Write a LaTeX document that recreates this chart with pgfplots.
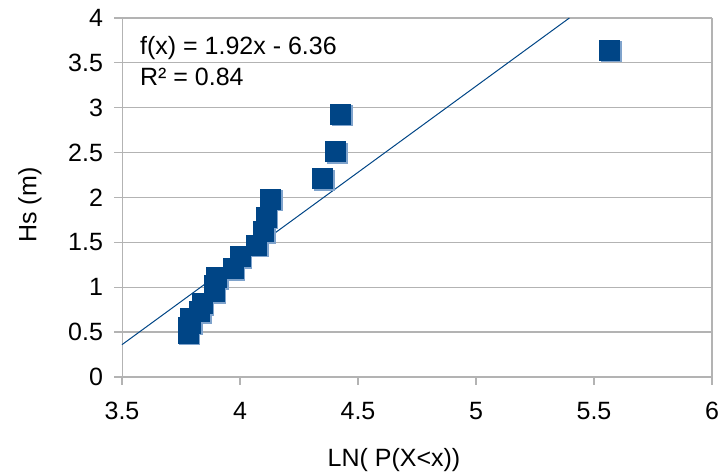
\documentclass[border=0pt]{standalone}
\usepackage{pgfplots}
\pgfplotsset{compat=1.18}
\usepackage{fontspec}
\setmainfont{Liberation Sans}
\definecolor{loblue}{HTML}{004586}
\definecolor{loshadow}{HTML}{7FA3CC}
\definecolor{gridgray}{HTML}{B3B3B3}

\pgfplotstableread{
x y
3.78 0.49
3.78 0.55
3.79 0.60
3.79 0.65
3.83 0.73
3.84 0.82
3.89 0.95
3.89 1.02
3.90 1.11
3.97 1.21
4.00 1.34
4.07 1.47
4.10 1.62
4.11 1.78
4.13 1.98
4.35 2.21
4.405 2.51
4.425 2.93
5.565 3.64
}\hsdata

\begin{document}
\begin{tikzpicture}
\begin{axis}[
  scale only axis,width=295pt,height=179.5pt,
  font=\fontsize{12.5}{15}\selectfont,
  /pgf/number format/assume math mode=true,
  xmin=3.5,xmax=6,ymin=0,ymax=4,
  xtick={3.5,4,...,6},ytick={0,0.5,...,4},
  xticklabels={3.5,4,4.5,5,5.5,6},
  yticklabels={0,0.5,1,1.5,2,2.5,3,3.5,4},
  axis line style={gridgray},
  tick style={gridgray,line width=0.6pt},
  major tick length=4pt,
  tick align=outside,
  xtick pos=bottom,ytick pos=left,
  ymajorgrids,grid style={gridgray,line width=0.6pt},
  xticklabel style={yshift=-5pt},
  yticklabel style={xshift=-2pt},
  clip=false,
  xlabel={LN( P(X<x))},
  ylabel={Hs (m)},
  every axis x label/.style={at={(axis description cs:0.461,-0.231)},anchor=center,inner sep=0pt},
  every axis y label/.style={at={(axis description cs:-0.156,0.479)},anchor=center,rotate=90,inner sep=0pt},
]
  % corners of the page, in the reference's proportions
  \coordinate (bbA) at (axis description cs:-0.2068,-0.2674);
  \coordinate (bbB) at (axis description cs:1.0102,1.0501);
  % right border
  \draw[gridgray,line width=0.6pt] (axis description cs:1,0) -- (axis description cs:1,1);
  % trend line
  \addplot[loblue,line width=0.5pt] coordinates {(3.5,0.36)(5.3958,4)};
  % marker shadows
  \addplot[only marks,mark=square*,mark size=5pt,
    mark options={fill=loshadow,draw=loshadow,xshift=0.8pt,yshift=-0.8pt}]
    table[x=x,y=y] {\hsdata};
  \addplot[only marks,mark=square*,mark size=5pt,
    mark options={fill=loblue,draw=loblue}]
    table[x=x,y=y] {\hsdata};
  \node[anchor=west,align=left,inner sep=0pt] at (axis description cs:0.03,0.915) {f(x) = 1.92x - 6.36};
  \node[anchor=west,align=left,inner sep=0pt] at (axis description cs:0.03,0.836) {R² = 0.84};
\end{axis}
\pgfresetboundingbox
\path[use as bounding box] (bbA) rectangle (bbB);
\end{tikzpicture}
\end{document}
